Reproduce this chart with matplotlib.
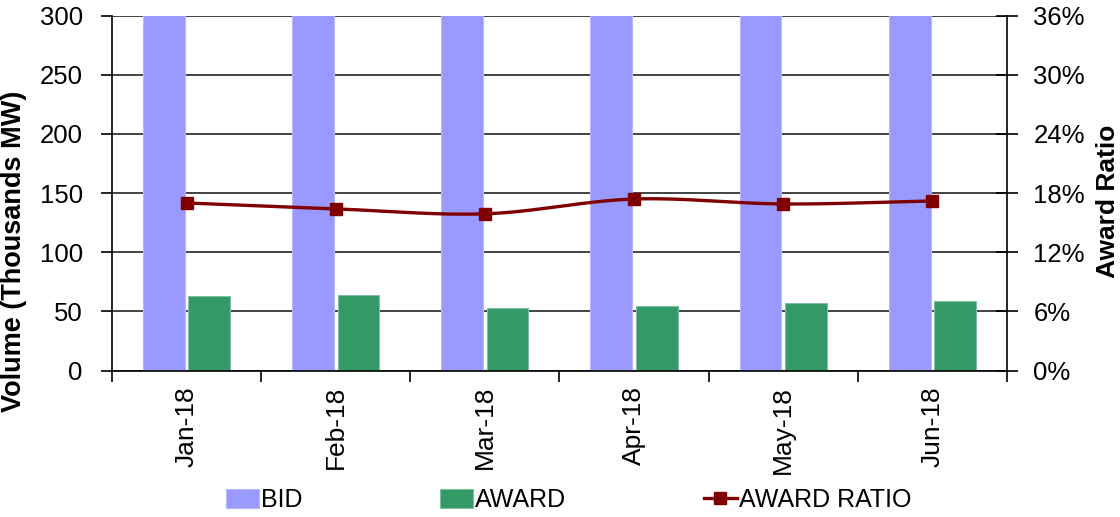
import numpy as np
import matplotlib.pyplot as plt
from matplotlib.ticker import PercentFormatter

plt.rcParams['font.family'] = ['Liberation Sans', 'DejaVu Sans']

months = ['Jan-18', 'Feb-18', 'Mar-18', 'Apr-18', 'May-18', 'Jun-18']
bid = [372, 391, 331, 316, 337, 346]
award = [63.1, 64.0, 52.7, 54.9, 56.9, 59.1]
award_ratio = [0.170, 0.164, 0.159, 0.174, 0.169, 0.172]


def smooth(x, y, n=30):
    # catmull-rom curve through the points, like Excel's smoothed line
    px = np.concatenate([[2 * x[0] - x[1]], x, [2 * x[-1] - x[-2]]])
    py = np.concatenate([[2 * y[0] - y[1]], y, [2 * y[-1] - y[-2]]])
    xs, ys = [], []
    t = np.linspace(0, 1, n)
    for i in range(1, len(px) - 2):
        for p, out in ((px, xs), (py, ys)):
            p0, p1, p2, p3 = p[i - 1], p[i], p[i + 1], p[i + 2]
            out.extend(0.5 * (2 * p1 + (-p0 + p2) * t
                              + (2 * p0 - 5 * p1 + 4 * p2 - p3) * t ** 2
                              + (-p0 + 3 * p1 - 3 * p2 + p3) * t ** 3))
    return np.array(xs), np.array(ys)


x = np.arange(len(months))
fig = plt.figure(figsize=(11.2, 5.17), dpi=100)
ax = fig.add_axes([0.1, 0.283, 0.799, 0.687])

ax.bar(x - 0.152, bid, width=0.28, color='#9999FF', edgecolor='#B8B8FF', linewidth=0.8, zorder=2, label='BID')
ax.bar(x + 0.152, award, width=0.28, color='#339966', edgecolor='#80C0A0', linewidth=0.8, zorder=2, label='AWARD')

ax.set_xlim(-0.5, len(months) - 0.5)
ax.set_ylim(0, 300)
ax.set_yticks(range(0, 301, 50))
ax.grid(axis='y', color='#222222', linewidth=1.2, zorder=0)
ax.set_axisbelow(True)
ax.set_xticks(np.arange(-0.5, len(months), 1))
ax.set_xticklabels([])
ax.set_xticks(x, minor=True)
ax.set_xticklabels(months, minor=True, rotation=90, fontsize=19)
ax.tick_params(axis='x', which='minor', length=0, pad=11)
ax.tick_params(axis='x', which='major', length=8, width=1.2, direction='out')
ax.tick_params(axis='y', length=8, width=1.2, labelsize=18.5, pad=13)
for s in ['top', 'right']:
    ax.spines[s].set_visible(False)
ax.spines['left'].set_linewidth(1.2)
ax.spines['bottom'].set_linewidth(1.2)
fig.text(14 / 1120, 1 - 251 / 517, 'Volume (Thousands MW)', rotation=90,
         ha='center', va='center', fontsize=19.5, fontweight='bold')

ax2 = ax.twinx()
sx, sy = smooth(x.astype(float), np.array(award_ratio))
ax2.plot(sx, sy, color='#800000', linewidth=2.4, zorder=3)
ax2.plot(x, award_ratio, linestyle='none', marker='s', markersize=8, color='#800000', zorder=4)
ax2.set_ylim(0, 0.36)
ax2.set_yticks(np.arange(0, 0.361, 0.06))
ax2.yaxis.set_major_formatter(PercentFormatter(1.0, decimals=0))
ax2.tick_params(axis='y', length=16, width=1.2, direction='inout', labelsize=18.5, pad=11)
for s in ['top', 'left', 'bottom']:
    ax2.spines[s].set_visible(False)
ax2.spines['right'].set_linewidth(1.2)
fig.text(1108 / 1120, 1 - 201 / 517, 'Award Ratio', rotation=90,
         ha='center', va='center', fontsize=19, fontweight='bold')

handles = ax.get_legend_handles_labels()[0]
line_h = plt.Line2D([], [], color='#800000', linewidth=2.4, marker='s', markersize=8)
fig.legend(handles + [line_h], ['BID', 'AWARD', 'AWARD RATIO'], ncol=3, loc='center',
           bbox_to_anchor=(0.508, 0.033), frameon=False, fontsize=18,
           handlelength=1.3, handleheight=0.8, handletextpad=0.1, columnspacing=5.5)

plt.savefig('out.png', dpi=100)
